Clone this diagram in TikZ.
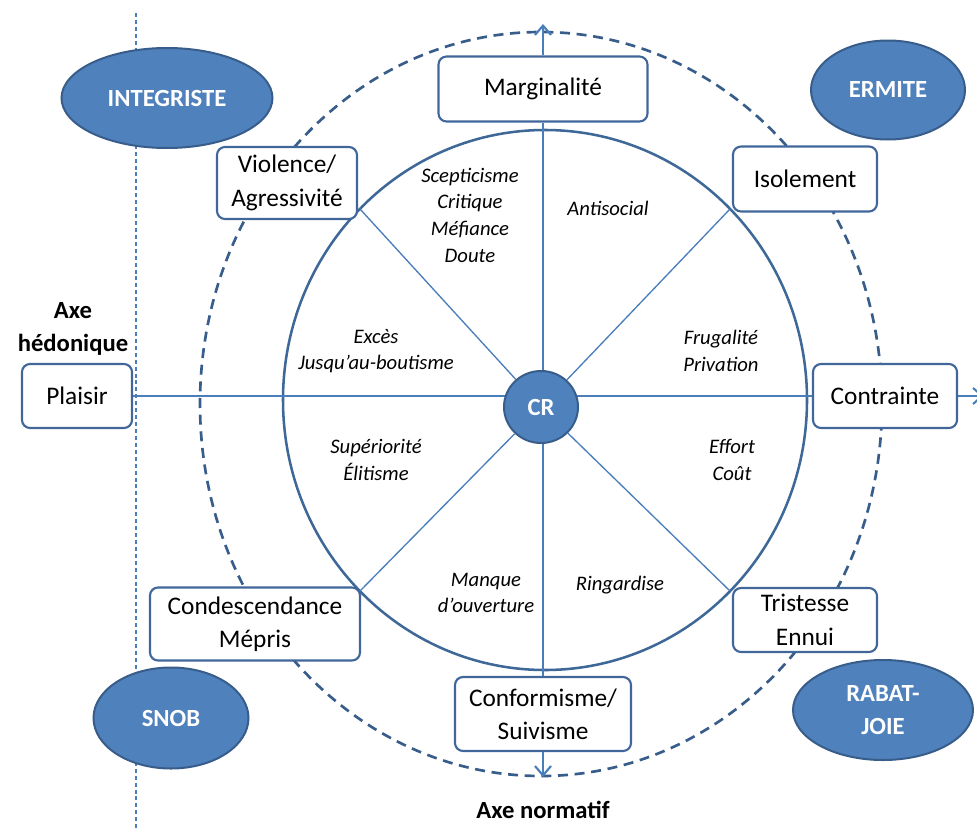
\documentclass[tikz,border=0pt]{standalone}
\usepackage{fontspec}
\setmainfont{Carlito}
\usetikzlibrary{shapes.geometric,arrows.meta}

\definecolor{ellfill}{HTML}{4F81BD}
\definecolor{ellline}{HTML}{385D8A}
\definecolor{boxline}{HTML}{41669A}
\definecolor{axisblue}{HTML}{4A7EBB}
\definecolor{ringblue}{HTML}{3E6898}

\tikzset{
  pole/.style={ellipse, draw=ellline, line width=1.5pt, fill=ellfill, text=white,
    font=\fontsize{18.5}{25}\selectfont\bfseries, align=center, inner sep=0pt},
  trait/.style={draw=boxline, line width=1.6pt, rounded corners=6pt, fill=white,
    font=\fontsize{19}{25}\selectfont, align=center, inner sep=0pt},
  facette/.style={font=\fontsize{15.5}{20}\selectfont\itshape, align=center, inner sep=0pt},
  axelabel/.style={font=\fontsize{18.5}{25}\selectfont\bfseries, align=center, inner sep=0pt},
  axe/.style={draw=axisblue, line width=2.1pt},
  rayon/.style={draw=axisblue, line width=1pt},
  fleche/.style={-{Straight Barb[length=7pt,width=12pt,line width=1.6pt]}},
}

\begin{document}
\begin{tikzpicture}[x=0.75pt,y=0.75pt,yscale=-1,xscale=1]
\useasboundingbox (0,0) rectangle (977,828);

%Shape: Ellipse (dashed outer ring)
\draw [color=ellline, line width=2pt, dash pattern={on 7.5pt off 5pt}] (541,404) ellipse (341 and 372);
%Straight Lines (thin dashed vertical)
\draw [color=axisblue, line width=0.9pt, dash pattern={on 3pt off 2.2pt}] (136,13) -- (136,828);
%Shape: Ellipse (inner ring)
\draw [color=ringblue, line width=1.9pt] (545,400) ellipse (262 and 270);

% Poles
\node [pole, minimum width=158.25pt, minimum height=75pt] (integriste) at (167,98) {INTEGRISTE};
\node [pole, minimum width=115.5pt, minimum height=74.25pt] (ermite) at (888,90) {ERMITE};
\node [pole, minimum width=116.25pt, minimum height=75.75pt] (snob) at (171,718) {SNOB};
\node [pole, minimum width=135pt, minimum height=75pt] (rabatjoie) at (883,710) {RABAT-\\JOIE};

% Traits
\node [trait, minimum width=156.75pt, minimum height=48.75pt] (marg) at (543,89) {Marginalité};
\node [trait, minimum width=108pt, minimum height=48.75pt] (isol) at (805,179) {Isolement};
\node [trait, minimum width=105pt, minimum height=54pt] (viol) at (287,183) {Violence/\\Agressivité};
\node [trait, minimum width=82.5pt, minimum height=48pt] (plaisir) at (77,396) {Plaisir};
\node [trait, minimum width=108pt, minimum height=48pt] (contr) at (885,396) {Contrainte};
\node [trait, minimum width=157.5pt, minimum height=54.75pt] (cond) at (255,624) {Condescendance\\Mépris};
\node [trait, minimum width=108pt, minimum height=48pt] (trist) at (805,620) {Tristesse\\Ennui};
\node [trait, minimum width=132pt, minimum height=55.5pt] (conf) at (543,714) {Conformisme/\\Suivisme};

% Axes
\coordinate (vtop) at (543,24);
\coordinate (vbot) at (543,777);
\coordinate (hend) at (984,396);
\coordinate (d1) at (730,209);
\coordinate (d2) at (360,209);
\coordinate (d3) at (360,591);
\coordinate (d4) at (730,591);
\draw [axe, fleche] (marg) -- (vtop);
\draw [axe] (marg) -- (conf);
\draw [axe, fleche] (conf) -- (vbot);
\draw [axe] (plaisir) -- (contr);
\draw [axe, fleche] (contr) -- (hend);

% Centre
\node [pole, minimum width=55.5pt, minimum height=54pt] (cr) at (541,407) {CR};
\foreach \d in {d1,d2,d3,d4}
  \draw [rayon] (cr) -- (\d);

% Facettes
\node [facette] (scept) at (470,215) {Scepticisme\\Critique\\Méfiance\\Doute};
\node [facette] (antis) at (608,208) {Antisocial};
\node [facette] (exces) at (376,351) {Excès\\Jusqu’au-boutisme};
\node [facette] (frug) at (721,351) {Frugalité\\Privation};
\node [facette] (super) at (376,460) {Supériorité\\Élitisme};
\node [facette] (effort) at (732,460) {Effort\\Coût};
\node [facette] (manque) at (486,593) {Manque\\d’ouverture};
\node [facette] (ring) at (620,585) {Ringardise};

% Text Node
\node [axelabel] (hedo) at (73,329) {Axe\\hédonique};
\node [axelabel] (norm) at (543,810) {Axe normatif};

\end{tikzpicture}
\end{document}
